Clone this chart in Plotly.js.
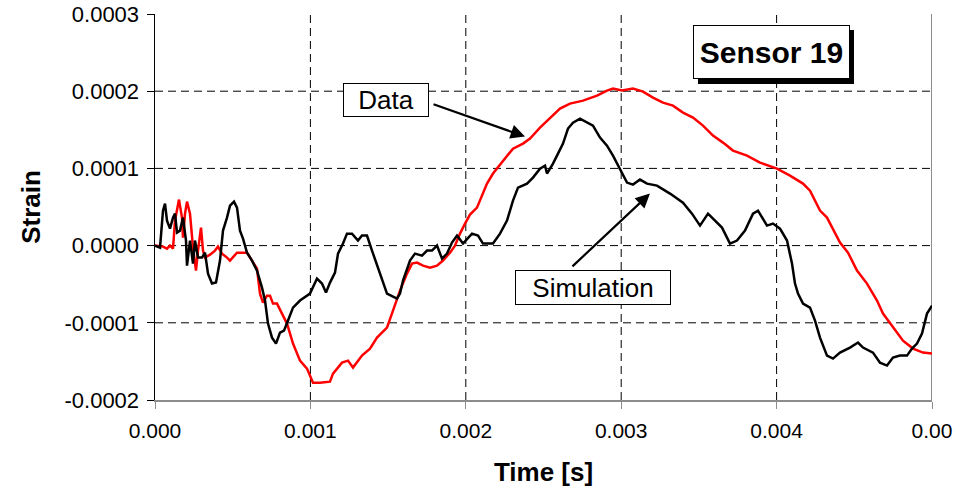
<!DOCTYPE html>
<html><head><meta charset="utf-8">
<script src="https://cdn.plot.ly/plotly-3.0.1.min.js"></script>
<style>html,body{margin:0;padding:0;background:#fff}#chart{width:962px;height:492px}</style>
</head><body><div id="chart"></div>
<script>
// Red series ("Data")
const dataTime = [
0, 0.0000515, 0.0000772, 0.0000965, 0.0001158, 0.0001287, 0.0001544, 0.0001737, 0.0001802, 0.0001931,
0.0002059, 0.0002252, 0.0002445, 0.0002638, 0.0002767, 0.0002960, 0.0003089, 0.0003218, 0.0003539, 0.0003861,
0.0004054, 0.0004311, 0.0004633, 0.0004826, 0.0005277, 0.0005663, 0.0005920, 0.0006242, 0.0006564, 0.0006757,
0.0006950, 0.0007207, 0.0007400, 0.0007593, 0.0007851, 0.0008172, 0.0008494, 0.0008880, 0.0009331, 0.0009781,
0.0010167, 0.0010618, 0.0011261, 0.0011454, 0.0012034, 0.0012420, 0.0012741, 0.0013320, 0.0013835, 0.0014286,
0.0014929, 0.0015315, 0.0015766, 0.0016216, 0.0016538, 0.0016860, 0.0017246, 0.0017696, 0.0018147, 0.0018533,
0.0018983, 0.0019305, 0.0019627, 0.0019949, 0.0020270, 0.0020721, 0.0020914, 0.0021364, 0.0021750, 0.0022394,
0.0023037, 0.0023681, 0.0024131, 0.0024775, 0.0025418, 0.0026062, 0.0026705, 0.0027542, 0.0028443, 0.0029086,
0.0029472, 0.0030051, 0.0030759, 0.0031403, 0.0032046, 0.0032690, 0.0033333, 0.0033977, 0.0034620, 0.0035264,
0.0035907, 0.0036551, 0.0037194, 0.0038095, 0.0038932, 0.0040026, 0.0040862, 0.0041699, 0.0042149, 0.0042793,
0.0043243, 0.0044080, 0.0044595, 0.0045174, 0.0045817, 0.0046461, 0.0046847, 0.0047490, 0.0048134, 0.0048777,
0.0049421, 0.0050000];
const dataStrain = [
0, -0.0000013, -0.0000039, 0, -0.0000039, 0.0000324, 0.0000596, 0.0000363, 0.0000104, 0.0000414,
0.0000570, 0.0000414, -0.0000026, -0.0000324, -0.0000065, 0.0000233, -0.0000065, -0.0000155, -0.0000117, -0.0000065,
-0.0000013, -0.0000104, -0.0000155, -0.0000194, -0.0000091, -0.0000091, -0.0000091, -0.0000194, -0.0000298, -0.0000622,
-0.0000738, -0.0000648, -0.0000648, -0.0000751, -0.0000751, -0.0000881, -0.0001010, -0.0001269, -0.0001490, -0.0001593,
-0.0001775, -0.0001775, -0.0001762, -0.0001658, -0.0001516, -0.0001490, -0.0001580, -0.0001425, -0.0001334, -0.0001192,
-0.0001062, -0.0000842, -0.0000583, -0.0000363, -0.0000233, -0.0000220, -0.0000259, -0.0000285, -0.0000259, -0.0000194,
-0.0000091, 0, 0.0000155, 0.0000285, 0.0000402, 0.0000492, 0.0000583, 0.0000803, 0.0000933, 0.0001101,
0.0001256, 0.0001321, 0.0001386, 0.0001528, 0.0001658, 0.0001775, 0.0001839, 0.0001878, 0.0001943, 0.0002008,
0.0002034, 0.0002008, 0.0002034, 0.0001995, 0.0001917, 0.0001852, 0.0001813, 0.0001723, 0.0001658, 0.0001554,
0.0001425, 0.0001334, 0.0001231, 0.0001166, 0.0001075, 0.0000997, 0.0000907, 0.0000803, 0.0000712, 0.0000453,
0.0000363, 0.0000039, -0.0000091, -0.0000324, -0.0000492, -0.0000712, -0.0000881, -0.0001062, -0.0001231, -0.0001334,
-0.0001386, -0.0001399];

// Black series ("Simulation")
const simTime = [
0, 0.0000322, 0.0000515, 0.0000644, 0.0000772, 0.0000965, 0.0001158, 0.0001287, 0.0001416, 0.0001609,
0.0001802, 0.0001995, 0.0002059, 0.0002252, 0.0002445, 0.0002574, 0.0002767, 0.0003024, 0.0003218, 0.0003411,
0.0003668, 0.0003925, 0.0004183, 0.0004376, 0.0004633, 0.0004826, 0.0005084, 0.0005277, 0.0005470, 0.0005663,
0.0005920, 0.0006242, 0.0006564, 0.0006885, 0.0007079, 0.0007272, 0.0007529, 0.0007786, 0.0008044, 0.0008301,
0.0008559, 0.0008880, 0.0009331, 0.0009974, 0.0010425, 0.0010746, 0.0011004, 0.0011261, 0.0011583, 0.0011776,
0.0012098, 0.0012355, 0.0012677, 0.0013063, 0.0013320, 0.0013642, 0.0013964, 0.0014286, 0.0014607, 0.0014929,
0.0015573, 0.0015766, 0.0015959, 0.0016409, 0.0016731, 0.0017181, 0.0017503, 0.0017825, 0.0018147, 0.0018468,
0.0018790, 0.0019112, 0.0019434, 0.0019820, 0.0020399, 0.0020785, 0.0021107, 0.0021750, 0.0022201, 0.0022651,
0.0023037, 0.0023359, 0.0023938, 0.0024324, 0.0024775, 0.0025097, 0.0025225, 0.0025611, 0.0025933, 0.0026255,
0.0026577, 0.0026898, 0.0027349, 0.0027799, 0.0028185, 0.0028636, 0.0029086, 0.0029472, 0.0029923, 0.0030373,
0.0030759, 0.0031210, 0.0031660, 0.0032304, 0.0033141, 0.0033977, 0.0034556, 0.0035071, 0.0035586, 0.0036036,
0.0036486, 0.0037001, 0.0037452, 0.0037967, 0.0038481, 0.0038803, 0.0039382, 0.0039768, 0.0040219, 0.0040669,
0.0040991, 0.0041184, 0.0041377, 0.0041699, 0.0042149, 0.0042471, 0.0042793, 0.0043243, 0.0043629, 0.0044080,
0.0044723, 0.0045238, 0.0045560, 0.0046203, 0.0046654, 0.0047104, 0.0047490, 0.0047941, 0.0048391, 0.0048713,
0.0049035, 0.0049356, 0.0049678, 0.0050000];
const simStrain = [
0, -0.0000026, 0.0000453, 0.0000544, 0.0000324, 0.0000220, 0.0000363, 0.0000414, 0.0000168, 0.0000194,
0.0000363, 0.0000065, -0.0000259, 0.0000065, -0.0000233, 0.0000065, -0.0000155, -0.0000155, -0.0000091, -0.0000363,
-0.0000492, -0.0000479, -0.0000194, 0.0000194, 0.0000363, 0.0000518, 0.0000570, 0.0000492, 0.0000194, 0.0000091,
-0.0000091, -0.0000194, -0.0000324, -0.0000544, -0.0000712, -0.0001010, -0.0001192, -0.0001269, -0.0001127, -0.0001101,
-0.0000971, -0.0000803, -0.0000712, -0.0000622, -0.0000427, -0.0000492, -0.0000609, -0.0000479, -0.0000350, -0.0000104,
0.0000026, 0.0000155, 0.0000155, 0.0000065, 0.0000130, 0.0000130, -0.0000065, -0.0000259, -0.0000453, -0.0000622,
-0.0000687, -0.0000622, -0.0000453, -0.0000194, -0.0000104, -0.0000130, -0.0000065, -0.0000065, 0, -0.0000168,
-0.0000104, 0.0000039, 0.0000130, 0.0000026, 0.0000155, 0.0000130, 0.0000026, 0.0000026, 0.0000155, 0.0000324,
0.0000583, 0.0000751, 0.0000803, 0.0000881, 0.0000997, 0.0001036, 0.0000933, 0.0001062, 0.0001192, 0.0001321,
0.0001516, 0.0001593, 0.0001645, 0.0001593, 0.0001554, 0.0001399, 0.0001295, 0.0001166, 0.0000997, 0.0000816,
0.0000790, 0.0000855, 0.0000803, 0.0000777, 0.0000674, 0.0000557, 0.0000414, 0.0000259, 0.0000414, 0.0000324,
0.0000233, 0.0000026, 0.0000065, 0.0000194, 0.0000414, 0.0000453, 0.0000259, 0.0000285, 0.0000220, 0.0000065,
-0.0000233, -0.0000492, -0.0000622, -0.0000751, -0.0000803, -0.0000971, -0.0001192, -0.0001425, -0.0001464, -0.0001386,
-0.0001321, -0.0001256, -0.0001321, -0.0001386, -0.0001516, -0.0001554, -0.0001451, -0.0001425, -0.0001425, -0.0001334,
-0.0001269, -0.0001140, -0.0000881, -0.0000777];

const xTickVals = [0, 0.001, 0.002, 0.003, 0.004, 0.005];
const xTickText = ['0.000', '0.001', '0.002', '0.003', '0.004', '0.00'];
const yTickVals = [-0.0002, -0.0001, 0, 0.0001, 0.0002, 0.0003];
const yTickText = ['-0.0002', '-0.0001', '0.0000', '0.0001', '0.0002', '0.0003'];
const gridX = [0.001, 0.002, 0.003, 0.004];
const gridY = [-0.0001, 0, 0.0001, 0.0002];

const FONT = 'Liberation Sans, Arial, sans-serif';

const traces = [
  {x: dataTime, y: dataStrain, name: 'Data', type: 'scatter', mode: 'lines',
   line: {color: '#ff0000', width: 2.5}},
  {x: simTime, y: simStrain, name: 'Simulation', type: 'scatter', mode: 'lines',
   line: {color: '#000000', width: 2.5}}
];

const shapes = [];
gridX.forEach(v => shapes.push({type: 'line', xref: 'x', yref: 'paper', x0: v, x1: v, y0: 0, y1: 1,
  layer: 'below', line: {color: '#000', width: 1, dash: '8px,5px'}}));
gridY.forEach(v => shapes.push({type: 'line', xref: 'paper', yref: 'y', x0: 0, x1: 1, y0: v, y1: v,
  layer: 'below', line: {color: '#000', width: 1, dash: '8px,5px'}}));
// right border of plot area
shapes.push({type: 'line', xref: 'x', yref: 'paper', x0: xTickVals[xTickVals.length - 1], x1: xTickVals[xTickVals.length - 1],
  y0: 0, y1: 1, layer: 'below', line: {color: '#8c8c8c', width: 2}});
// shadow of the sensor label box
shapes.push({type: 'rect', xref: 'paper', yref: 'paper', x0: 0.6988, x1: 0.8996, y0: 0.8187, y1: 0.9585,
  layer: 'above', fillcolor: '#000', line: {width: 0}});

const annotations = [
  {xref: 'paper', yref: 'paper', x: 0.2973, y: 0.7772, xanchor: 'center', yanchor: 'middle',
   text: 'Data', showarrow: false, font: {family: FONT, size: 26, color: '#000'},
   bgcolor: '#fff', bordercolor: '#000', borderwidth: 1, borderpad: 0, width: 84, height: 32},
  {xref: 'x', yref: 'y', x: 0.002381, y: 0.0001412, ax: -96, ay: -34, text: ' ', showarrow: true,
   arrowhead: 2, arrowsize: 1.3, arrowwidth: 2.2, arrowcolor: '#000', standoff: 0, startstandoff: 0},
  {xref: 'paper', yref: 'paper', x: 0.5637, y: 0.2915, xanchor: 'center', yanchor: 'middle',
   text: 'Simulation', showarrow: false, font: {family: FONT, size: 26, color: '#000'},
   bgcolor: '#fff', bordercolor: '#000', borderwidth: 1, borderpad: 0, width: 154, height: 33},
  {xref: 'x', yref: 'y', x: 0.003185, y: 0.0000674, ax: -82, ay: 77, text: ' ', showarrow: true,
   arrowhead: 2, arrowsize: 1.3, arrowwidth: 2.2, arrowcolor: '#000', standoff: 0, startstandoff: 0},
  {xref: 'paper', yref: 'paper', x: 0.7934, y: 0.9016, xanchor: 'center', yanchor: 'middle',
   text: 'Sensor 19', showarrow: false, font: {family: FONT, size: 30, color: '#000', weight: 700},
   bgcolor: '#fff', bordercolor: '#000', borderwidth: 1, borderpad: 0, width: 155, height: 52}
];

const layout = {
  width: 962, height: 492,
  margin: {l: 155, r: 30, t: 14, b: 92, pad: 0},
  paper_bgcolor: '#fff', plot_bgcolor: '#fff',
  showlegend: false,
  font: {family: FONT, color: '#000', size: 21},
  xaxis: {
    range: [0, 0.005], tickvals: xTickVals, ticktext: xTickText,
    showgrid: false, zeroline: false, showline: true, linecolor: '#8c8c8c', linewidth: 1.5,
    ticks: 'outside', ticklen: 7, tickcolor: '#8c8c8c', tickwidth: 1, ticklabelstandoff: 4,
    tickfont: {family: FONT, size: 21, color: '#000'},
    title: {text: 'Time [s]', font: {family: FONT, size: 26, color: '#000', weight: 700}, standoff: 22},
    automargin: false, fixedrange: true
  },
  yaxis: {
    range: [-0.0002, 0.0003], tickvals: yTickVals, ticktext: yTickText,
    showgrid: false, zeroline: false, showline: true, linecolor: '#000', linewidth: 1.5,
    ticks: 'outside', ticklen: 7, tickcolor: '#000', tickwidth: 1, ticklabelstandoff: 3,
    tickfont: {family: FONT, size: 22, color: '#000'},
    title: {text: 'Strain', font: {family: FONT, size: 26, color: '#000', weight: 700}, standoff: 16},
    automargin: false, fixedrange: true
  },
  shapes: shapes,
  annotations: annotations
};

Plotly.newPlot('chart', traces, layout, {displayModeBar: false, staticPlot: true});
</script>
</body></html>
